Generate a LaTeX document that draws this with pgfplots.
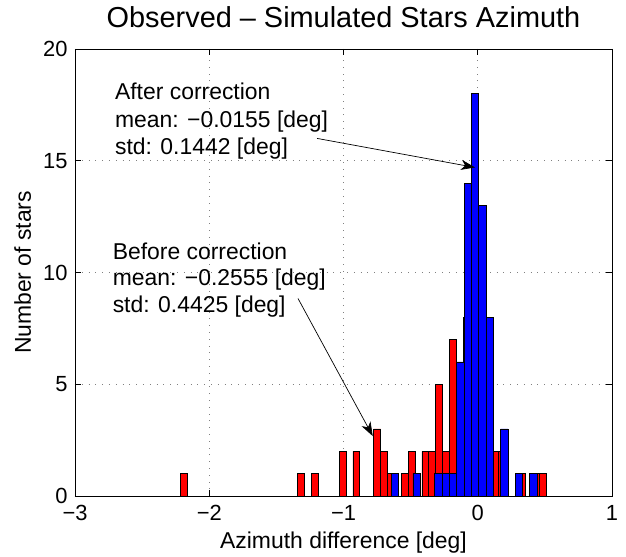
\documentclass[border=0pt]{standalone}
\usepackage{fontspec}
\setmainfont{Liberation Sans}
\usepackage{pgfplots}
\pgfplotsset{compat=1.18}
\usetikzlibrary{arrows.meta}

\begin{document}
\begin{tikzpicture}
\begin{axis}[
    at={(0,0)}, anchor=south west,
    scale only axis,
    width=537bp, height=447bp,
    xmin=-3, xmax=1,
    ymin=0, ymax=20,
    xtick={-3,-2,-1,0,1},
    xticklabels={−3,−2,−1,0,1},
    ytick={0,5,10,15,20},
    yticklabels={0,5,10,15,20},
    /pgf/number format/assume math mode=true,
    grid=major,
    major grid style={gray, line width=0.7bp, dash pattern=on 0.8bp off 6bp},
    tick align=inside,
    major tick length=6bp,
    tick style={black, line width=0.7bp},
    axis line style={line width=0.8bp},
    ticklabel style={font=\fontsize{22}{24}\selectfont},
    xticklabel style={yshift=-6bp},
    yticklabel style={xshift=-4bp},
    clip=false,
]

% before correction (red), bin width 0.0514
\addplot[ybar, bar width=0.05142, bar shift=0pt, fill=red, draw=black, line width=0.7bp]
coordinates {
(-2.1897,1) (-1.3156,1) (-1.2128,1) (-1.0071,2) (-0.9042,2)
(-0.7500,3) (-0.6986,2) (-0.6471,1) (-0.5443,1) (-0.4929,2)
(-0.3900,2) (-0.3386,2) (-0.2872,5) (-0.2358,2) (-0.1844,7)
(-0.1330,5) (-0.0815,8) (-0.0301,8) (0.0213,5) (0.0727,2)
(0.1242,2) (0.1756,2) (0.3298,1) (0.4327,1) (0.4841,1)
};

% after correction (blue), bin width 0.0544
\addplot[ybar, bar width=0.0544, bar shift=0pt, fill=blue, draw=black, line width=0.7bp]
coordinates {
(-0.6189,1) (-0.4557,1) (-0.2925,1) (-0.2381,1) (-0.1837,1)
(-0.1293,6) (-0.0749,14) (-0.0205,18) (0.0339,13) (0.0883,8)
(0.1971,3) (0.3059,1) (0.4147,1)
};

% annotations
\node[anchor=base west, font=\fontsize{23}{26}\selectfont, inner sep=0pt] at (axis cs:-2.703,17.72) {After correction};
\node[anchor=base west, font=\fontsize{23}{26}\selectfont, inner sep=0pt] at (axis cs:-2.703,16.50) {mean: −0.0155 [deg]};
\node[anchor=base west, font=\fontsize{23}{26}\selectfont, inner sep=0pt] at (axis cs:-2.703,15.27) {std: 0.1442 [deg]};
\draw[-{Stealth[length=14bp,width=10bp,inset=4bp]}, line width=0.7bp] (axis cs:-1.197,16.0) -- (axis cs:-0.02,14.7);

\node[anchor=base west, font=\fontsize{23}{26}\selectfont, inner sep=0pt] at (axis cs:-2.72,10.57) {Before correction};
\node[anchor=base west, font=\fontsize{23}{26}\selectfont, inner sep=0pt] at (axis cs:-2.72,9.42) {mean: −0.2555 [deg]};
\node[anchor=base west, font=\fontsize{23}{26}\selectfont, inner sep=0pt] at (axis cs:-2.72,8.23) {std: 0.4425 [deg]};
\draw[-{Stealth[length=14bp,width=10bp,inset=4bp]}, line width=0.7bp] (axis cs:-1.339,8.84) -- (axis cs:-0.782,2.68);

% title and axis labels
\node[anchor=base, font=\fontsize{29}{32}\selectfont, inner sep=0pt] at ([yshift=21.5bp]rel axis cs:0.5,1) {Observed – Simulated Stars Azimuth};
\node[anchor=base, font=\fontsize{23}{26}\selectfont, inner sep=0pt] at ([yshift=-52bp]rel axis cs:0.5,0) {Azimuth difference [deg]};
\node[anchor=base, rotate=90, font=\fontsize{23}{26}\selectfont, inner sep=0pt] at ([xshift=-44bp]rel axis cs:0,0.5) {Number of stars};
\end{axis}
\pgfresetboundingbox
\path[use as bounding box] (-75bp,-61bp) rectangle (551bp,496bp);
\end{tikzpicture}
\end{document}
